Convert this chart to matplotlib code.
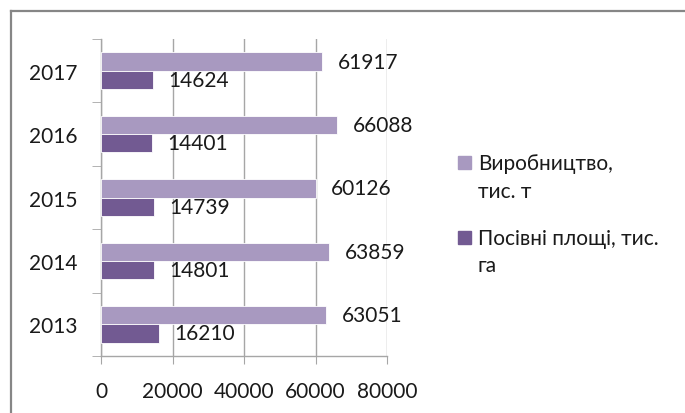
import numpy as np
import matplotlib
matplotlib.use("Agg")
from matplotlib import pyplot as plt
from matplotlib.patches import Rectangle
from matplotlib.lines import Line2D

years = ["2013", "2014", "2015", "2016", "2017"]
production = [63051, 63859, 60126, 66088, 61917]
area = [16210, 14801, 14739, 14401, 14624]
series_names = ["Виробництво,\nтис. т", "Посівні площі, тис.\nга"]
x_ticks = [0, 20000, 40000, 60000, 80000]

light = "#a899c0"
dark = "#725a92"
grid_c = "#a6a6a6"

plt.rcParams["font.family"] = ["Lato", "DejaVu Sans"]
fs = 15

W, H = 685, 414
fig = plt.figure(figsize=(W / 100, H / 100), dpi=100)
ax = fig.add_axes([101 / W, 1 - 357 / H, (387 - 101) / W, (357 - 40) / H])

y = np.arange(len(years))
bh = 0.29
off = 0.145
ax.barh(y + off, production, height=bh, color=light, edgecolor="white", linewidth=0.6, zorder=3)
ax.barh(y - off, area, height=bh, color=dark, edgecolor="white", linewidth=0.6, zorder=3)

# data labels outside end
for yi, v in zip(y, production):
    ax.annotate(str(v), (v, yi + off), xytext=(11, 0), textcoords="offset points",
                va="center", ha="left", fontsize=fs, color="#1a1a1a", zorder=4)
for yi, v in zip(y, area):
    ax.annotate(str(v), (v, yi - off), xytext=(11, 0), textcoords="offset points",
                va="center", ha="left", fontsize=fs, color="#1a1a1a", zorder=4)

ax.set_xlim(0, 80000)
ax.set_ylim(-0.5, len(years) - 0.5)
ax.set_xticks(x_ticks)
ax.set_xticklabels([str(t) for t in x_ticks], fontsize=fs, color="#1a1a1a")
ax.set_yticks(y)
ax.set_yticklabels(years, fontsize=fs, color="#1a1a1a")
ax.set_yticks(np.arange(-0.5, len(years)), minor=True)
ax.tick_params(axis="y", which="major", length=0, pad=17)
ax.tick_params(axis="y", which="minor", length=6.5, color=grid_c, direction="out")
ax.tick_params(axis="x", which="major", length=6, color=grid_c, direction="out", pad=12)

ax.grid(axis="x", color=grid_c, linewidth=1, zorder=0)
for s in ["top", "right"]:
    ax.spines[s].set_visible(False)
for s in ["left", "bottom"]:
    ax.spines[s].set_color(grid_c)
    ax.spines[s].set_linewidth(1)

# legend drawn by hand to keep the marker on the first line
leg_y = [178, 252.5]
sq_y = [163, 238]
for name, col, ty, sy in zip(series_names, [light, dark], leg_y, sq_y):
    fig.patches.append(Rectangle((458 / W, 1 - (sy + 6.5) / H), 13 / W, 13 / H,
                                 transform=fig.transFigure, color=col))
    fig.text(478 / W, 1 - ty / H, name, fontsize=fs, va="center", ha="left",
             linespacing=1.45, color="#1a1a1a")

# outer chart frame (top and left edges visible)
fig.add_artist(Line2D([11 / W, 1.0], [1 - 12 / H, 1 - 12 / H], color="#868686", linewidth=1.6))
fig.add_artist(Line2D([11 / W, 11 / W], [0, 1 - 12 / H], color="#868686", linewidth=1.6))

fig.savefig("out.png", dpi=100)
